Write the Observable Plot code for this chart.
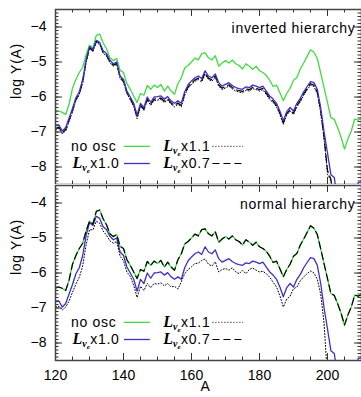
<!DOCTYPE html>
<html><head><meta charset="utf-8">
<script src="https://cdn.jsdelivr.net/npm/d3@7"></script>
<script src="https://cdn.jsdelivr.net/npm/@observablehq/plot@0.6"></script>
<style>body{margin:0;background:#fff;} #chart svg{display:block;}</style>
</head><body><div id="chart"></div>
<script>
// Mass numbers A (x categories)
const massNumbers = d3.range(120, 211);

// no oscillation (same in both panels)
const noOsc = [
 -6.43,-6.40,-6.44,-6.50,-6.20,-5.75,-5.50,-5.30,-5.15,-4.80,
 -4.52,-4.60,-4.24,-4.20,-4.45,-4.62,-4.88,-4.96,-4.90,-5.24,
 -5.30,-5.62,-5.78,-5.97,-6.16,-5.90,-5.95,-5.67,-5.78,-5.66,
 -5.73,-5.64,-5.83,-5.69,-5.83,-5.92,-5.62,-5.45,-5.17,-5.10,
 -5.00,-4.89,-4.94,-4.76,-4.74,-4.88,-4.94,-4.82,-5.12,-5.03,
 -4.96,-5.03,-4.94,-5.05,-5.10,-5.20,-5.05,-5.12,-5.21,-5.12,
 -5.25,-5.30,-5.38,-5.52,-5.70,-5.66,-5.88,-6.11,-5.90,-5.75,
 -5.52,-5.44,-5.20,-5.03,-4.84,-4.65,-4.72,-4.90,-5.31,-5.74,
 -6.16,-6.59,-6.64,-6.88,-7.15,-7.49,-7.20,-6.97,-6.63,-6.66,
 -6.62];

// L x1.0 (both panels)
const lum10 = [
 -6.82,-6.80,-6.97,-6.87,-6.60,-6.33,-6.02,-5.85,-5.50,-4.93,
 -4.56,-4.64,-4.38,-4.44,-4.68,-4.76,-4.95,-5.05,-5.00,-5.40,
 -5.50,-5.83,-6.00,-6.18,-6.52,-6.18,-6.30,-6.00,-6.15,-6.00,
 -5.99,-5.97,-6.06,-5.99,-6.11,-6.18,-6.11,-6.18,-5.85,-5.65,
 -5.54,-5.45,-5.40,-5.47,-5.25,-5.40,-5.45,-5.34,-5.59,-5.69,
 -5.64,-5.59,-5.67,-5.73,-5.76,-5.78,-5.71,-5.73,-5.66,-5.69,
 -5.73,-5.69,-5.83,-5.97,-6.06,-6.18,-6.40,-6.68,-6.42,-6.30,
 -6.40,-6.18,-6.04,-5.85,-5.70,-5.56,-5.59,-5.78,-6.30,-7.00,
 -7.60,-8.22,-8.30,-9.00,-9.00,-9.00,-9.00,-9.00,-9.00,-8.45,
 -8.42];

// inverted hierarchy, L x1.1
const invLum11 = [
 -6.95,-6.90,-7.05,-6.97,-6.70,-6.42,-6.10,-5.93,-5.60,-5.02,
 -4.62,-4.70,-4.44,-4.50,-4.75,-4.83,-5.02,-5.12,-5.06,-5.47,
 -5.58,-5.90,-6.08,-6.27,-6.62,-6.27,-6.38,-6.09,-6.24,-6.10,
 -6.09,-6.07,-6.16,-6.09,-6.21,-6.28,-6.21,-6.28,-5.95,-5.75,
 -5.64,-5.55,-5.50,-5.57,-5.35,-5.50,-5.55,-5.44,-5.69,-5.79,
 -5.74,-5.69,-5.77,-5.83,-5.86,-5.88,-5.81,-5.83,-5.76,-5.79,
 -5.83,-5.79,-5.93,-6.07,-6.16,-6.28,-6.50,-6.78,-6.52,-6.40,
 -6.50,-6.28,-6.14,-5.95,-5.80,-5.66,-5.70,-5.90,-6.45,-7.20,
 -8.20,-8.40,-9.00,-9.00,-9.00,-9.00,-9.00,-9.00,-9.00,-9.00,
 -9.00];

// inverted hierarchy, L x0.7
const invLum07 = [
 -6.90,-6.86,-7.02,-6.93,-6.66,-6.38,-6.07,-5.90,-5.56,-4.98,
 -4.59,-4.67,-4.41,-4.47,-4.72,-4.80,-4.99,-5.09,-5.04,-5.44,
 -5.55,-5.87,-6.05,-6.23,-6.58,-6.23,-6.35,-6.06,-6.20,-6.06,
 -6.05,-6.03,-6.12,-6.05,-6.17,-6.24,-6.17,-6.24,-5.91,-5.71,
 -5.60,-5.51,-5.46,-5.53,-5.31,-5.46,-5.51,-5.40,-5.65,-5.75,
 -5.70,-5.65,-5.73,-5.79,-5.82,-5.84,-5.77,-5.79,-5.72,-5.75,
 -5.79,-5.75,-5.89,-6.03,-6.12,-6.24,-6.46,-6.74,-6.48,-6.36,
 -6.46,-6.24,-6.10,-5.91,-5.76,-5.62,-5.66,-5.86,-6.40,-7.15,
 -8.10,-8.35,-9.00,-9.00,-9.00,-9.00,-9.00,-9.00,-9.00,-9.00,
 -9.00];

// normal hierarchy, L x1.1
const normLum11 = [
 -6.97,-6.95,-7.06,-6.97,-6.80,-6.55,-6.32,-6.12,-5.80,-5.20,
 -4.76,-4.77,-4.52,-4.58,-4.80,-4.92,-5.08,-5.15,-5.10,-5.52,
 -5.65,-5.97,-6.10,-6.35,-6.70,-6.38,-6.50,-6.30,-6.42,-6.30,
 -6.32,-6.28,-6.37,-6.30,-6.40,-6.38,-6.46,-6.25,-6.02,-5.90,
 -5.82,-5.73,-5.72,-5.64,-5.60,-5.75,-5.80,-5.68,-5.97,-5.90,
 -5.87,-5.92,-5.85,-5.97,-6.02,-5.92,-6.02,-5.90,-5.86,-5.92,
 -5.97,-5.95,-6.02,-6.12,-6.26,-6.40,-6.65,-6.97,-6.75,-6.66,
 -6.45,-6.40,-6.22,-6.11,-6.02,-5.94,-6.00,-6.18,-6.60,-7.45,
 -9.00,-9.00,-9.00,-9.00,-9.00,-9.00,-9.00,-9.00,-9.00,-9.00,
 -9.00];

// normal hierarchy, L x0.7 (coincides with no osc)
const normLum07 = noOsc;

const panelLabels = ["inverted hierarchy", "normal hierarchy"];
const legendLabels = ["no osc", "x1.0", "x1.1", "x0.7"];
const xTickLabels = [120, 140, 160, 180, 200];
const yTickLabels = [-8, -7, -6, -5, -4];

const GREEN = "#3fdc3f", BLUE = "#3c2fc8";
const W = 361, ML = 55, MR = 0;
const X_DOMAIN = [120, 210], Y_DOMAIN = [-8.5, -3.5];
const TXT = "Liberation Sans, Arial, sans-serif";
const SERIF = "Liberation Serif, serif";
const LUM = "L\u03bde"; // marker prefix, expanded into L with subscripts below

function rows(values) { return values.map((v, i) => ({A: massNumbers[i], v})); }

function panel({label, series, showX, height, marginTop, marginBottom}) {
  const fw = W - ML - MR, fh = height - marginTop - marginBottom;
  const xMinor = d3.range(120, 211, 5), yMinor = d3.range(-85, -34).map(d => d / 10);
  const tk = {stroke: "#333", strokeWidth: 1};
  const marks = [];
  for (const s of series) {
    marks.push(Plot.line(rows(s.values), {x: "A", y: "v", stroke: s.color, strokeWidth: s.width, strokeDasharray: s.dash, clip: true}));
  }
  // inward ticks on all four sides
  marks.push(Plot.tickX(xMinor, {x: d => d, insetTop: fh - 3.5, ...tk}));
  marks.push(Plot.tickX(xTickLabels, {x: d => d, insetTop: fh - 7, ...tk}));
  marks.push(Plot.tickX(xMinor, {x: d => d, insetBottom: fh - 3.5, ...tk}));
  marks.push(Plot.tickX(xTickLabels, {x: d => d, insetBottom: fh - 7, ...tk}));
  marks.push(Plot.tickY(yMinor, {y: d => d, insetRight: fw - 3.5, ...tk}));
  marks.push(Plot.tickY(yTickLabels, {y: d => d, insetRight: fw - 7, ...tk}));
  marks.push(Plot.tickY(yMinor, {y: d => d, insetLeft: fw - 3.5, ...tk}));
  marks.push(Plot.tickY(yTickLabels, {y: d => d, insetLeft: fw - 7, ...tk}));
  marks.push(Plot.frame({stroke: "#444", strokeWidth: 1.5}));
  marks.push(Plot.axisY({ticks: yTickLabels, tickSize: 0, tickPadding: 9, label: null, fontSize: 14, tickFormat: d => "\u2212" + Math.abs(d)}));
  if (showX) {
    marks.push(Plot.axisX({ticks: xTickLabels, tickSize: 0, tickPadding: 10, label: null, fontSize: 14}));
    marks.push(Plot.text(["A"], {frameAnchor: "bottom", dx: -3, dy: 30, fontSize: 14}));
  }
  marks.push(Plot.text([label], {frameAnchor: "top-right", textAnchor: "end", dx: -6, dy: 14, fontSize: 14}));
  marks.push(Plot.text(["log Y(A)"], {frameAnchor: "left", dx: -39, dy: 2, rotate: -90, fontSize: 14}));

  // legend (two columns x two rows), placed in data units of the panel
  const rowY = [-7.41, -7.9];
  const textStart = [125.0, 151.7], textEnd = [137.9, 164.9];
  const sampleX = [[140.3, 147.9], [166.3, 175.3]];
  const entries = [
    {col: 0, row: 0, text: legendLabels[0], L: false, color: GREEN, dash: null, width: 1.3},
    {col: 0, row: 1, text: legendLabels[1], L: true, color: BLUE, dash: null, width: 1.3},
    {col: 1, row: 0, text: legendLabels[2], L: true, color: "#000", dash: "1,2", width: 1},
    {col: 1, row: 1, text: legendLabels[3], L: true, color: "#000", dash: "7,4", width: 1.2}
  ];
  for (const e of entries) {
    const y = rowY[e.row];
    if (e.L) {
      marks.push(Plot.text([LUM + e.text], {x: textStart[e.col], y, textAnchor: "start", fontSize: 14}));
    } else {
      marks.push(Plot.text([e.text], {x: textEnd[e.col], y, textAnchor: "end", fontSize: 14}));
    }
    marks.push(Plot.ruleY([y], {x1: sampleX[e.col][0], x2: sampleX[e.col][1], stroke: e.color, strokeWidth: e.width, strokeDasharray: e.dash}));
  }

  const svg = Plot.plot({
    width: W, height, marginLeft: ML, marginRight: MR, marginTop, marginBottom,
    style: {fontFamily: TXT, fontSize: "14px", color: "#000", background: "#fff"},
    x: {domain: X_DOMAIN, axis: showX ? undefined : null},
    y: {domain: Y_DOMAIN},
    marks
  });
  // wider letter spacing for the sans-serif labels, as in the original
  d3.select(svg).selectAll('g[aria-label="text"] text').style("letter-spacing", "0.7px");
  // expand L_{nu_e} labels into one text with subscripts
  d3.select(svg).selectAll('g[aria-label="text"] text')
    .filter(function () { return this.textContent.startsWith(LUM); })
    .each(function () {
      const rest = this.textContent.slice(LUM.length);
      const t = d3.select(this).text(null);
      const serif = s => s.attr("font-family", SERIF).attr("font-style", "italic").attr("font-weight", "bold").style("letter-spacing", "0px");
      serif(t.append("tspan")).attr("font-size", 16).text("L");
      serif(t.append("tspan")).attr("font-size", 10).attr("dy", 3).text("\u03bd");
      serif(t.append("tspan")).attr("font-size", 7).attr("dy", 2.5).text("e");
      t.append("tspan").attr("font-size", 14).attr("dx", 0.5).attr("dy", -5.5).text(rest);
    });
  return svg;
}

const topPanel = panel({
  label: panelLabels[0], showX: false, height: 184, marginTop: 9, marginBottom: 0,
  series: [
    {values: noOsc, color: GREEN, width: 1.3},
    {values: invLum11, color: "#000", width: 1, dash: "1,2"},
    {values: invLum07, color: "#000", width: 1.2, dash: "7,4"},
    {values: lum10, color: BLUE, width: 1.3}
  ]
});
const bottomPanel = panel({
  label: panelLabels[1], showX: true, height: 213, marginTop: 1, marginBottom: 37,
  series: [
    {values: noOsc, color: GREEN, width: 1.3},
    {values: lum10, color: BLUE, width: 1.3},
    {values: normLum11, color: "#000", width: 1, dash: "1,2"},
    {values: normLum07, color: "#000", width: 1.2, dash: "7,4"}
  ]
});
document.getElementById("chart").append(topPanel, bottomPanel);
</script>
</body></html>
